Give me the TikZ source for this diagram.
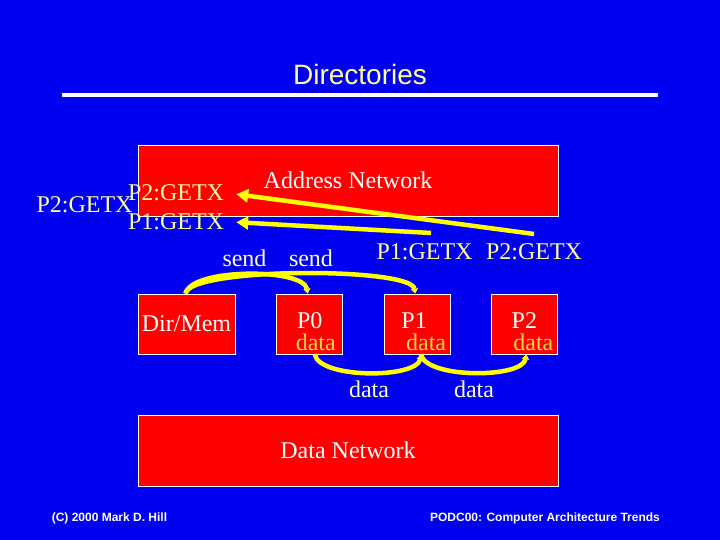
\documentclass[tikz,border=0pt]{standalone}
\usepackage{fontspec}
\setmainfont{Liberation Serif}
\setsansfont{Liberation Sans}
\usetikzlibrary{
    arrows.meta,
    positioning
}
\tikzset{
  netbox/.style  = {draw=white, line width=0.8pt, fill=boxRed,
                    minimum width=420pt, minimum height=71pt,
                    font=\fontsize{24}{28}\selectfont, text=white},
  procbox/.style = {draw=white, line width=0.8pt, fill=boxRed,
                    minimum width=66pt, minimum height=60pt, inner sep=0pt,
                    font=\fontsize{24}{28}\selectfont, text=white},
  lbl/.style     = {font=\fontsize{24}{28}\selectfont, text=lblYellow,
                    inner sep=0pt, anchor=base},
  wlbl/.style    = {lbl, text=white},
  clbl/.style    = {lbl, text=creamText},
  dlbl/.style    = {lbl, text=dataYellow},
  foot/.style    = {font=\sffamily\bfseries\fontsize{12}{14}\selectfont,
                    text=white},
  arr/.style     = {-{Triangle[length=12pt,width=13pt]}, arrYellow,
                    line width=4.5pt},
  arcarr/.style  = {-{Triangle[length=5pt,width=7pt]}, arrYellow,
                    line width=4.5pt}
}
\definecolor{slideBlue}{RGB}{0,0,240}
\definecolor{boxRed}{RGB}{255,0,0}
\definecolor{lblYellow}{RGB}{255,255,153}
\definecolor{creamText}{RGB}{255,255,204}
\definecolor{dataYellow}{RGB}{255,214,64}
\definecolor{arrYellow}{RGB}{255,255,0}

\begin{document}
\begin{tikzpicture}[x=1pt, y=1pt]
    \fill[slideBlue] (0,0) rectangle (720,540);
    \useasboundingbox (0,0) rectangle (720,540);

    \node[font=\sffamily\fontsize{28}{32}\selectfont, text=lblYellow,
          anchor=base] (title) at (360,455) {Directories};
    \coordinate (rl) at (62,445);
    \coordinate (rr) at (658,445);
    \draw[white, line width=4pt] (rl) -- (rr);

    \node[netbox] (addr) at (348,359.5) {Address Network};
    \node[netbox] (dnet) at (348,89.5) {Data Network};

    \node[procbox, minimum width=97pt] (dir) at (186.5,216) {Dir/Mem};
    \node[procbox, right=41pt of dir] (p0) {};
    \node[procbox, right=40.5pt of p0] (p1) {};
    \node[procbox, right=40.5pt of p1] (p2) {};

    \node[wlbl] (p0t) at ([yshift=-5pt]p0.center) {P0};
    \node[dlbl] (p0d) at ([xshift=6pt,yshift=-27pt]p0.center) {data};
    \node[wlbl] (p1t) at ([xshift=-3pt,yshift=-5pt]p1.center) {P1};
    \node[dlbl] (p1d) at ([xshift=9pt,yshift=-27pt]p1.center) {data};
    \node[wlbl] (p2t) at ([yshift=-5pt]p2.center) {P2};
    \node[dlbl] (p2d) at ([xshift=9pt,yshift=-27pt]p2.center) {data};

    \node[lbl] (p2far) at (84.5,327) {P2:GETX};
    \node[lbl] (p2in) at (176,339) {P2:GETX};
    \node[lbl] (p1in) at (176,310) {P1:GETX};
    \node[lbl] (p1r) at (424.5,280) {P1:GETX};
    \node[lbl] (p2r) at (534,280) {P2:GETX};
    \node[clbl] (s1) at (244.5,273) {send};
    \node[clbl] (s2) at (311,273) {send};
    \node[clbl] (d1) at (369,142) {data};
    \node[clbl] (d2) at (474,142) {data};

    \coordinate (g1) at (431,307);
    \coordinate (g2) at (534,306);
    \draw[arr] (g2) -- ([xshift=12pt,yshift=-1pt]p2in.east);
    \draw[arr] (g1) -- ([xshift=12pt]p1in.east);

    \draw[arcarr] ([xshift=-1pt]dir.north) to[out=78,in=100,looseness=0.55] ([xshift=-2pt]p0.north);
    \draw[arcarr] ([xshift=-1pt]dir.north) to[out=82,in=97,looseness=0.3] ([xshift=-2pt]p1.north);
    \draw[arcarr] ([xshift=5pt]p0.south) to[out=-80,in=-100,looseness=0.6] ([xshift=4pt]p1.south);
    \draw[arcarr] ([xshift=4pt]p1.south) to[out=-80,in=-100,looseness=0.6] ([xshift=2pt]p2.south);

    \node[foot] (cr) at (109.5,22) {(C) 2000 Mark D. Hill};
    \node[foot] (conf) at (545,22) {PODC00: Computer Architecture Trends};
\end{tikzpicture}
\end{document}
